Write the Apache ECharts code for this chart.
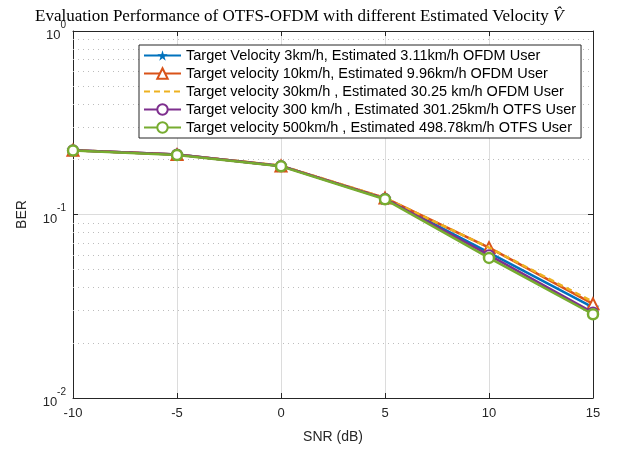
<!DOCTYPE html>
<html>
<head>
<meta charset="utf-8">
<script src="https://cdn.jsdelivr.net/npm/echarts@6/dist/echarts.min.js"></script>
<style>
  html, body { margin: 0; padding: 0; background: #fff; }
  #chart { width: 633px; height: 450px; }
</style>
</head>
<body>
<div id="chart"></div>
<script>
// SNR points (dB)
var snr = [-10, -5, 0, 5, 10, 15];

// BER
var berV3   = [0.224, 0.212, 0.184, 0.122, 0.062, 0.0312];
var berV10  = [0.224, 0.212, 0.184, 0.123, 0.066, 0.0326];
var berV30  = [0.224, 0.212, 0.185, 0.123, 0.066, 0.0334];
var berV300 = [0.224, 0.212, 0.184, 0.122, 0.060, 0.0292];
var berV500 = [0.223, 0.211, 0.183, 0.121, 0.058, 0.0286];

var legendNames = [
    'Target Velocity 3km/h, Estimated 3.11km/h OFDM User',
    'Target velocity 10km/h, Estimated 9.96km/h OFDM User',
    'Target velocity 30km/h , Estimated 30.25 km/h OFDM User',
    'Target velocity 300 km/h , Estimated 301.25km/h OTFS User',
    'Target velocity 500km/h , Estimated 498.78km/h OTFS User'
];

// dotted minor grid values (2..9 per decade)
var minorGrid = [0.02, 0.03, 0.04, 0.05, 0.06, 0.07, 0.08, 0.09,
                 0.2, 0.3, 0.4, 0.5, 0.6, 0.7, 0.8, 0.9];

var starPath = 'path://M50,0 L61.8,36.2 L100,36.2 L69.1,58.6 L80.9,95.1 L50,72.7 L19.1,95.1 L30.9,58.6 L0,36.2 L38.2,36.2 Z';

function pairs(ys) {
    return snr.map(function (x, i) { return [x, ys[i]]; });
}

var chart = echarts.init(document.getElementById('chart'));

var axisColor = '#262626';
var sansFont = 'Liberation Sans, Arial, sans-serif';

function powLabel(v) {
    var e = Math.round(Math.log(v) / Math.LN10);
    return '{b|10}{s|' + e + '}';
}

var option = {
    animation: false,
    backgroundColor: '#fff',
    title: {
        text: '{a|Evaluation Performance of OTFS-OFDM with different Estimated Velocity }{v|V\u0302}',
        left: 30,
        top: 3,
        textStyle: {
            fontWeight: 'normal',
            rich: {
                a: { fontFamily: 'Liberation Serif, serif', fontSize: 17, fontWeight: 'normal', color: '#000' },
                v: { fontFamily: 'Liberation Serif, serif', fontSize: 17, fontWeight: 'normal', fontStyle: 'italic', color: '#000' }
            }
        }
    },
    legend: {
        orient: 'vertical',
        left: 139,
        top: 45,
        padding: [3, 5, 3, 4],
        itemWidth: 37,
        itemHeight: 13,
        itemGap: 3,
        backgroundColor: '#fff',
        borderColor: axisColor,
        borderWidth: 1,
        borderRadius: 0,
        textStyle: { fontFamily: sansFont, fontSize: 14.5, color: '#000' },
        data: [
            legendNames[0],
            legendNames[1],
            { name: legendNames[2], itemStyle: { color: 'rgba(0,0,0,0)', borderColor: 'rgba(0,0,0,0)', borderWidth: 0 } },
            legendNames[3],
            legendNames[4]
        ]
    },
    grid: { left: 73, right: 40, top: 31, bottom: 52 },
    xAxis: [{
        type: 'value',
        min: -10, max: 15, interval: 5,
        name: 'SNR (dB)',
        nameLocation: 'middle',
        nameGap: 32,
        nameTextStyle: { fontFamily: sansFont, fontSize: 14, color: '#262626' },
        axisLine: { onZero: false, lineStyle: { color: axisColor, width: 1 } },
        axisTick: { inside: true, length: 5, lineStyle: { color: axisColor } },
        axisLabel: { fontFamily: sansFont, fontSize: 13, color: '#262626', margin: 9 },
        splitLine: { show: true, lineStyle: { color: '#dcdcdc', width: 1 } }
    }, {
        type: 'value',
        position: 'top',
        min: -10, max: 15, interval: 5,
        axisLine: { show: true, onZero: false, lineStyle: { color: axisColor, width: 1 } },
        axisTick: { show: true, inside: true, length: 5, lineStyle: { color: axisColor } },
        axisLabel: { show: false },
        splitLine: { show: false }
    }],
    yAxis: [{
        type: 'log',
        logBase: 10,
        min: 0.01, max: 1,
        name: 'BER',
        nameLocation: 'middle',
        nameGap: 44,
        nameTextStyle: { fontFamily: sansFont, fontSize: 14, color: '#262626' },
        axisLine: { show: true, onZero: false, lineStyle: { color: axisColor, width: 1 } },
        axisTick: { show: true, inside: true, length: 5, lineStyle: { color: axisColor } },
        axisLabel: {
            margin: 7,
            formatter: powLabel,
            rich: {
                b: { fontFamily: sansFont, fontSize: 13, color: '#262626', lineHeight: 22, verticalAlign: 'bottom' },
                s: { fontFamily: sansFont, fontSize: 10, color: '#262626', lineHeight: 22, verticalAlign: 'top' }
            }
        },
        splitLine: { show: true, lineStyle: { color: '#dcdcdc', width: 1 } }
    }, {
        type: 'log',
        logBase: 10,
        min: 0.01, max: 1,
        position: 'right',
        axisLine: { show: true, onZero: false, lineStyle: { color: axisColor, width: 1 } },
        axisTick: { show: true, inside: true, length: 5, lineStyle: { color: axisColor } },
        axisLabel: { show: false },
        splitLine: { show: false }
    }],
    series: [{
        name: legendNames[0],
        type: 'line',
        data: pairs(berV3),
        symbol: starPath,
        symbolSize: 13,
        color: '#0072BD',
        lineStyle: { width: 2.5, color: '#0072BD' },
        itemStyle: { color: '#0072BD' },
        z: 2,
        markLine: {
            silent: true,
            symbol: ['none', 'none'],
            label: { show: false },
            lineStyle: { type: [1, 4], color: '#bdbdbd', width: 1 },
            data: minorGrid.map(function (v) { return { yAxis: v }; }),
            z: 1
        }
    }, {
        name: legendNames[1],
        type: 'line',
        data: pairs(berV10),
        symbol: 'triangle',
        symbolSize: 11,
        color: '#D95319',
        lineStyle: { width: 2.5, color: '#D95319' },
        itemStyle: { color: '#fff', borderColor: '#D95319', borderWidth: 2 },
        z: 3
    }, {
        name: legendNames[2],
        type: 'line',
        data: pairs(berV30),
        symbol: 'none',
        color: '#EDB120',
        lineStyle: { width: 2.5, color: '#EDB120', type: [6, 4] },
        z: 4
    }, {
        name: legendNames[3],
        type: 'line',
        data: pairs(berV300),
        symbol: 'circle',
        symbolSize: 10,
        color: '#7E2F8E',
        lineStyle: { width: 2.5, color: '#7E2F8E' },
        itemStyle: { color: '#fff', borderColor: '#7E2F8E', borderWidth: 2 },
        z: 5
    }, {
        name: legendNames[4],
        type: 'line',
        data: pairs(berV500),
        symbol: 'circle',
        symbolSize: 10,
        color: '#77AC30',
        lineStyle: { width: 2.5, color: '#77AC30' },
        itemStyle: { color: '#fff', borderColor: '#77AC30', borderWidth: 2.5 },
        z: 6
    }]
};

chart.setOption(option);
</script>
</body>
</html>
